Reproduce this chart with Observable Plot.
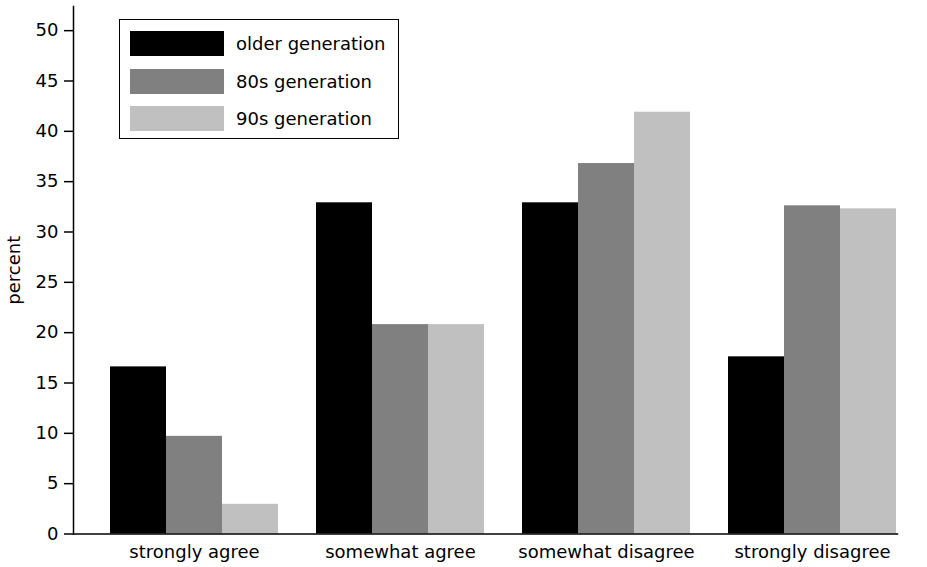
<!DOCTYPE html>
<html>
<head>
<meta charset="utf-8">
<script src="https://cdn.jsdelivr.net/npm/d3@7"></script>
<script src="https://cdn.jsdelivr.net/npm/@observablehq/plot@0.6"></script>
<style>
  body { margin: 0; background: #fff; }
  #wrap { position: relative; width: 927px; height: 567px; font-family: "DejaVu Sans", sans-serif; }
  #legend { position: absolute; left: 119px; top: 19px; width: 280px; height: 120px; border: 1.5px solid #000; background: #fff; box-sizing: border-box; }
  .item { position: absolute; left: 10px; height: 25px; display: flex; align-items: center; font-size: 18px; color: #000; white-space: nowrap; }
  .sw { width: 94px; height: 25px; margin-right: 12px; }
</style>
</head>
<body>
<div id="wrap"></div>
<script>
const categories = ["strongly agree", "somewhat agree", "somewhat disagree", "strongly disagree"];
const generations = ["older generation", "80s generation", "90s generation"];
const colors = ["#000000", "#808080", "#c0c0c0"];
const olderValues = [16.6, 32.9, 32.9, 17.6];
const gen80Values = [9.7, 20.8, 36.8, 32.6];
const gen90Values = [2.95, 20.8, 41.9, 32.3];
const yTicks = [0, 5, 10, 15, 20, 25, 30, 35, 40, 45, 50];

const series = [olderValues, gen80Values, gen90Values];
const data = [];
categories.forEach((c, i) => {
  generations.forEach((g, j) => data.push({category: c, generation: g, value: series[j][i]}));
});
// one label per category, centred on the middle bar of its group
const labelData = data.filter(d => d.generation === generations[1]);

const font = "'DejaVu Sans', sans-serif";
const chart = Plot.plot({
  width: 927,
  height: 567,
  marginLeft: 73,
  marginRight: 0,
  marginTop: 6,
  marginBottom: 33.5,
  style: {fontFamily: font, fontSize: "18px", color: "#000", background: "#fff"},
  fx: {domain: categories, range: [73, 897], padding: 0, axis: null},
  x: {domain: generations, axis: null, paddingInner: 0, paddingOuter: 0.339, align: 0.974},
  y: {domain: [0, 52.4]},
  color: {domain: generations, range: colors},
  marks: [
    Plot.barY(data, {fx: "category", x: "generation", y: "value", fill: "generation"}),
    Plot.text(labelData, {fx: "category", x: "generation", text: "category", frameAnchor: "bottom", lineAnchor: "top", dy: 11, fontSize: 18, fill: "#000"}),
    Plot.axisY({ticks: yTicks, tickSize: 9, tickPadding: 6, fontSize: 18, strokeWidth: 1.5, label: "percent", labelAnchor: "center", labelArrow: false, labelOffset: 66}),
    Plot.frame({anchor: "left", facet: "super", stroke: "#000", strokeWidth: 1.5}),
    Plot.frame({anchor: "bottom", facet: "super", stroke: "#000", strokeWidth: 1.5})
  ]
});
const wrap = document.getElementById("wrap");
wrap.appendChild(chart);

const legend = document.createElement("div");
legend.id = "legend";
generations.forEach((g, j) => {
  const item = document.createElement("div");
  item.className = "item";
  item.style.top = (11 + j * 37.5) + "px";
  const sw = document.createElement("div");
  sw.className = "sw";
  sw.style.background = colors[j];
  item.appendChild(sw);
  item.appendChild(document.createTextNode(g));
  legend.appendChild(item);
});
wrap.appendChild(legend);
</script>
</body>
</html>
